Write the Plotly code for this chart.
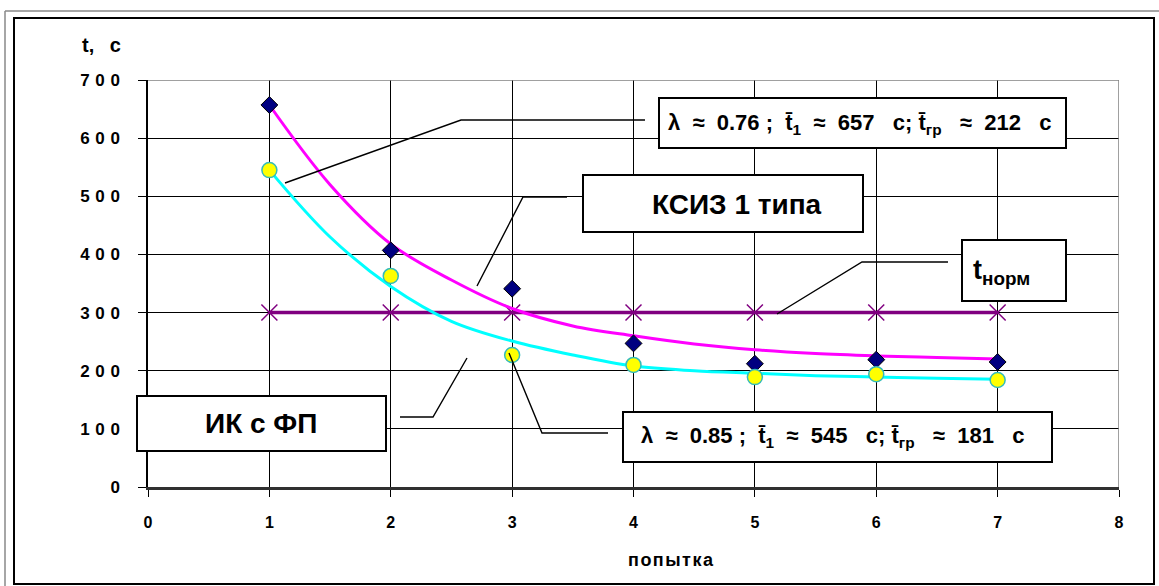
import plotly.graph_objects as go

# ---- data ----
attempts = [1, 2, 3, 4, 5, 6, 7]
t_ksiz = [657, 407, 341, 247, 212, 219, 215]      # КСИЗ 1 типа, measured
t_ik = [545, 363, 227, 210, 189, 194, 184]        # ИК с ФП, measured
t_norm = [300, 300, 300, 300, 300, 300, 300]      # normative time

fit_x = [1, 1.5, 2, 2.5, 3, 3.5, 4, 4.5, 5, 5.5, 6, 6.5, 7]
fit_ksiz = [657, 520, 418, 356, 307, 277, 260, 246, 236, 229.5, 225.5, 222.7, 220]
fit_ik = [545, 430, 345, 285, 251, 227, 208, 200, 195.6, 191.5, 189.3, 187, 185.5]

x_ticks = [0, 1, 2, 3, 4, 5, 6, 7, 8]
x_ticktext = ["0", "1", "2", "3", "4", "5", "6", "7", "8"]
y_ticks = [0, 100, 200, 300, 400, 500, 600, 700]
y_ticktext = ["0", "1 0 0", "2 0 0", "3 0 0", "4 0 0", "5 0 0", "6 0 0", "7 0 0"]

# ---- geometry helpers (pixel -> paper) ----
W, H = 1159, 586
L, R, T, B = 148, 40, 80, 99
PW, PH = W - L - R, H - T - B


def px(x):
    return (x - L) / PW


def py(y):
    return (H - B - y) / PH


FONT = "Liberation Sans, Arial, sans-serif"
NARROW = "Liberation Sans Narrow, Arial Narrow, Liberation Sans, Arial, sans-serif"
NB = "\u00a0"
EN = "\u2002"
THIRD = "\u2004"
HAIR = "\u200a"


def spaced(s, sep):
    return sep.join(s)


fig = go.Figure()

fig.add_trace(go.Scatter(
    x=attempts, y=t_norm, mode="lines+markers",
    line=dict(color="#800080", width=3.5),
    marker=dict(symbol="x-thin", size=16, line=dict(color="#800080", width=1.5)),
    showlegend=False, hoverinfo="skip"))

fig.add_trace(go.Scatter(
    x=fit_x, y=fit_ksiz, mode="lines", line=dict(color="#FF00FF", width=3, shape="spline"),
    showlegend=False, hoverinfo="skip"))
fig.add_trace(go.Scatter(
    x=fit_x, y=fit_ik, mode="lines", line=dict(color="#00FFFF", width=3, shape="spline"),
    showlegend=False, hoverinfo="skip"))

fig.add_trace(go.Scatter(
    x=attempts, y=t_ksiz, mode="markers",
    marker=dict(symbol="diamond", size=13, color="#000080", line=dict(color="#000000", width=1)),
    showlegend=False))
fig.add_trace(go.Scatter(
    x=attempts, y=t_ik, mode="markers",
    marker=dict(symbol="circle", size=15, color="#FFFF00", line=dict(color="#33BBBB", width=1.5)),
    showlegend=False))

shapes = []
# outer frames
shapes.append(dict(type="line", xref="paper", yref="paper", x0=px(5), y0=py(11), x1=px(1170), y1=py(11),
                   line=dict(color="#888888", width=1.5)))
shapes.append(dict(type="line", xref="paper", yref="paper", x0=px(5), y0=py(11), x1=px(5), y1=py(600),
                   line=dict(color="#888888", width=1.5)))
shapes.append(dict(type="rect", xref="paper", yref="paper", x0=px(14), y0=py(18), x1=px(1154), y1=py(584),
                   line=dict(color="#000000", width=2)))
# gray plot-area border top / right
shapes.append(dict(type="line", xref="x", yref="y", x0=0, y0=700, x1=8, y1=700,
                   line=dict(color="#808080", width=1.5), layer="above"))
shapes.append(dict(type="line", xref="x", yref="y", x0=8, y0=0, x1=8, y1=700,
                   line=dict(color="#808080", width=1.5), layer="above"))

# callout leader lines
leaders = [
    [(645, 120), (461, 120), (285, 183)],
    [(567, 197), (523, 197), (477, 286)],
    [(948, 262), (862, 262), (777, 314)],
    [(400, 417), (433, 417), (467, 358)],
    [(608, 433), (542, 433), (509, 353)],
]
for pts in leaders:
    path = "M " + " L ".join(f"{px(a):.5f},{py(b):.5f}" for a, b in pts)
    shapes.append(dict(type="path", xref="paper", yref="paper", path=path,
                       line=dict(color="#000000", width=1.4), layer="above"))

# text boxes
boxes = [(659, 98, 1066, 148), (583, 175, 863, 232), (962, 240, 1066, 301),
         (137, 396, 386, 451), (623, 412, 1052, 462)]
for x0, y0, x1, y1 in boxes:
    shapes.append(dict(type="rect", xref="paper", yref="paper", x0=px(x0), y0=py(y0), x1=px(x1), y1=py(y1),
                       fillcolor="#FFFFFF", line=dict(color="#000000", width=2), layer="above"))

tbar = "t\u0304"
S2 = NB * 2
S3 = NB * 3


def param_text(lam, t1, tgr):
    return (f"λ{S2}≈{S2}{lam}{NB};{S2}{tbar}<sub>1</sub>{S2}≈{S2}{t1}{S3}c;{NB}"
            f"{tbar}<sub>гр</sub>{S3}≈{S2}{tgr}{S3}c")


annotations = [
    dict(text=param_text("0.76", "657", "212"), x=px(859), y=py(124), font=dict(size=22)),
    dict(text="КСИЗ 1 типа", x=px(737), y=py(204), font=dict(size=28)),
    dict(text="t<sub>норм</sub>", x=px(1001), y=py(272), font=dict(size=27)),
    dict(text="ИК с ФП", x=px(261), y=py(423), font=dict(size=28)),
    dict(text=param_text("0.85", "545", "181"), x=px(832), y=py(437), font=dict(size=22)),
    dict(text=f"t,{NB}{EN}c", x=px(101), y=py(45), font=dict(size=20)),
    dict(text=spaced("попытка", HAIR), x=px(671), y=py(560), font=dict(size=18)),
]
for a in annotations:
    a.update(xref="paper", yref="paper", xanchor="center", yanchor="middle", showarrow=False)
    a["font"].update(family=FONT, color="#000000", weight="bold")

fig.update_layout(
    width=W, height=H,
    margin=dict(l=L, r=R, t=T, b=B, pad=0),
    paper_bgcolor="#FFFFFF", plot_bgcolor="#FFFFFF",
    shapes=shapes, annotations=annotations,
    showlegend=False,
    xaxis=dict(range=[0, 8], tickvals=x_ticks, ticktext=x_ticktext,
               showgrid=True, gridcolor="#000000", gridwidth=1.3,
               showline=True, linecolor="#303030", linewidth=2.5,
               ticks="outside", ticklen=7, tickcolor="#000000", tickwidth=1.3,
               ticklabelstandoff=12, zeroline=False,
               tickfont=dict(family=NARROW, size=16, color="#000000", weight="bold")),
    yaxis=dict(range=[0, 700], tickvals=y_ticks,
               ticktext=[t.replace(" ", THIRD) for t in y_ticktext],
               showgrid=True, gridcolor="#000000", gridwidth=1.3,
               showline=True, linecolor="#000000", linewidth=1.5,
               ticks="outside", ticklen=8, tickcolor="#000000", tickwidth=1.3,
               ticklabelstandoff=15, zeroline=False,
               tickfont=dict(family=FONT, size=17, color="#000000", weight="bold")),
)

fig.write_html("out.html")
